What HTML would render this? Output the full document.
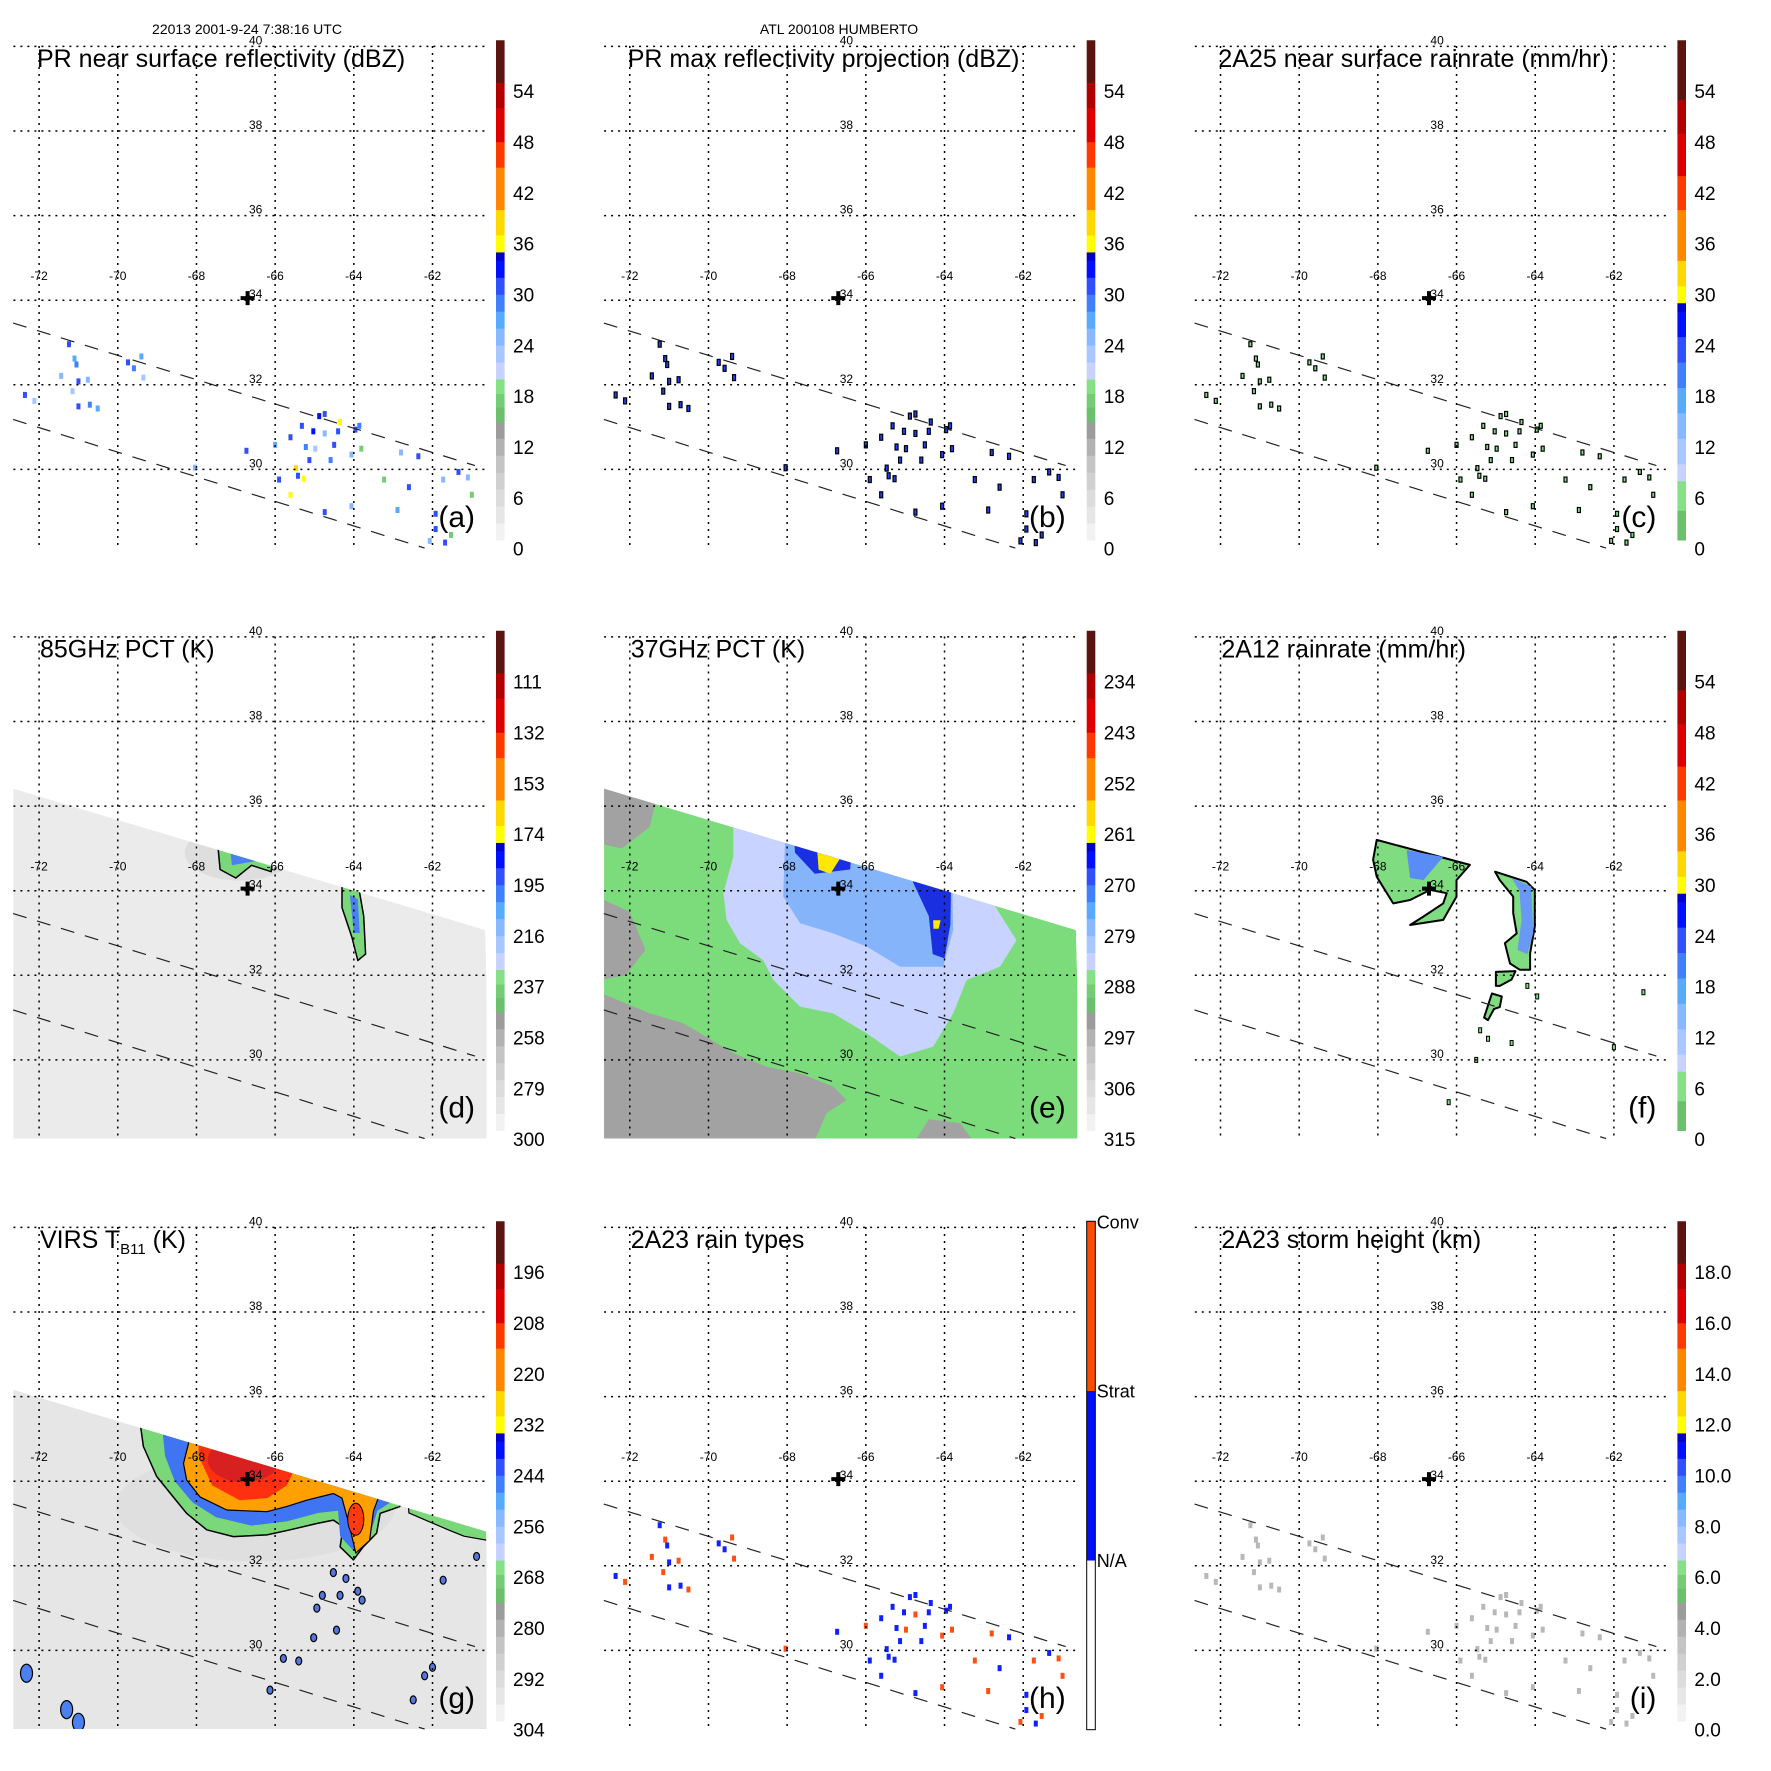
<!DOCTYPE html>
<html><head><meta charset="utf-8">
<style>
html,body{margin:0;padding:0;background:#fff;}
svg{display:block;font-family:"Liberation Sans",Arial,sans-serif;}
</style></head>
<body>
<svg id="fig" width="1771" height="1771" viewBox="0 0 1771 1771" xmlns="http://www.w3.org/2000/svg">
<text x="247" y="34" font-size="14" text-anchor="middle">22013 2001-9-24 7:38:16 UTC</text>
<text x="839" y="34" font-size="14" text-anchor="middle">ATL 200108 HUMBERTO</text>
</svg>
<script>
// ---- data ----
const lonTicks = [-72,-70,-68,-66,-64,-62];
const latTicks = [40,38,36,34,32,30];
const stormCenter = [-66.7, 34.05];
// PR echo pixels (lon, lat, dBZ)
const echoLon = [-71.24,-71.05,-71.10,-71.0,-70.76,-71.15,-71.0,-70.71,-70.51,-71.44,-72.36,-72.12,-69.74,-69.59,-69.4,-69.35,-68.04,-66.73,-66.0,-65.9,-65.61,-65.32,-65.22,-65.03,-64.88,-64.74,-65.42,-65.47,-65.27,-65.13,-64.98,-64.74,-64.5,-64.59,-64.35,-64.4,-63.96,-63.86,-63.81,-64.06,-62.8,-62.36,-62.6,-62.89,-63.23,-61.73,-61.34,-61.92,-61.92,-61.68,-62.07,-61.53,-64.06,-64.74,-65.61,-61.0,-61.1];
const echoLat = [32.96,32.48,32.62,32.08,32.12,31.85,31.49,31.53,31.44,32.21,31.76,31.62,32.53,32.39,32.67,32.17,30.04,30.44,30.58,29.76,30.76,31.03,30.53,30.9,31.26,31.31,29.85,30.03,29.78,30.22,30.49,30.85,30.58,30.22,31.12,30.9,30.94,31.03,30.49,30.35,30.4,30.31,29.58,29.04,29.76,29.76,29.94,28.95,28.59,28.27,28.31,28.45,29.13,28.99,29.4,29.4,29.81];
const echoVal = [30,28,26,30,25,22,30,28,26,24,30,22,30,28,26,22,24,30,26,30,30,30,28,32,32,30,30,38,36,30,22,24,30,28,36,30,30,28,18,24,24,30,30,26,18,24,30,30,30,30,24,18,24,30,36,18,24];
const cbTicks = [0,6,12,18,24,30,36,42,48,54];
const labelsDBZ = ['0','6','12','18','24','30','36','42','48','54'];
const labels85 = ['300','279','258','237','216','195','174','153','132','111'];
const labels37 = ['315','306','297','288','279','270','261','252','243','234'];
const labelsIR = ['304','292','280','268','256','244','232','220','208','196'];
const labelsHt = ['0.0','2.0','4.0','6.0','8.0','10.0','12.0','14.0','16.0','18.0'];
// swath edges (lon,lat)
const prUpper = [[-72.66,33.46],[-60.92,30.09]];
const prLower = [[-72.66,31.18],[-62.2,28.14]];
const tmiTop = [[-72.68,36.42],[-60.66,33.07]];
const virsTop = [[-72.68,36.17],[-60.64,32.81]];
// 37 GHz regions
const e_gray1 = [[-72.7,31.57],[-71.49,31.1],[-70.64,30.87],[-69.37,30.16],[-68.52,29.84],[-67.67,29.68],[-66.83,29.37],[-66.49,29.05],[-67.0,28.74],[-67.34,28.0],[-72.7,28.0]];
const e_gray2 = [[-72.7,33.8],[-72.0,33.5],[-71.6,32.6],[-72.1,32.0],[-72.7,31.9]];
const e_gray3 = [[-72.7,36.6],[-71.2,36.6],[-71.5,35.5],[-72.2,35.0],[-72.7,35.1]];
const e_gray4 = [[-64.8,28.0],[-64.4,28.6],[-63.6,28.5],[-63.2,28.0]];
const e_light = [[-69.37,36.5],[-62.76,36.5],[-62.76,33.70],[-62.17,32.83],[-62.59,32.2],[-63.44,31.89],[-63.78,31.1],[-64.29,30.31],[-65.13,30.08],[-65.98,30.63],[-66.83,31.1],[-67.67,31.26],[-68.35,31.89],[-68.61,32.36],[-69.2,32.76],[-69.54,33.31],[-69.62,33.94],[-69.37,34.8]];
const e_med = [[-68.01,36.5],[-63.86,36.5],[-63.78,33.07],[-64.03,32.2],[-65.13,32.2],[-65.98,32.68],[-66.83,32.99],[-67.67,33.23],[-68.1,33.86]];
const e_dark1 = [[-67.9,36.5],[-66.2,36.5],[-66.4,34.5],[-67.3,34.4],[-67.8,34.9]];
const e_dark2 = [[-64.8,36],[-63.8,36],[-63.85,33.2],[-64.0,32.4],[-64.3,32.5],[-64.4,33.4],[-64.8,34.2]];
const e_yel1 = [[-67.24,35.0],[-66.56,34.9],[-66.9,34.4],[-67.2,34.5]];
const e_yel2 = [[-64.29,33.3],[-64.1,33.3],[-64.15,33.1],[-64.28,33.1]];
// 85 GHz
const d_blob1 = [[-67.5,35.5],[-66.0,35.5],[-66.1,34.45],[-66.6,34.6],[-67.0,34.3],[-67.4,34.5]];
const d_blob1b = [[-67.2,35.5],[-66.3,35.5],[-66.5,34.7],[-67.1,34.6]];
const d_blob2 = [[-64.3,34.3],[-63.9,34.2],[-63.75,33.4],[-63.7,32.5],[-63.9,32.35],[-64.05,32.9],[-64.3,33.6]];
const d_blob2b = [[-64.1,33.9],[-63.9,33.8],[-63.85,33.0],[-64.0,33.0]];
// 2A12
const f_blob1 = [[-68.03,35.2],[-65.66,34.61],[-66.0,34.25],[-66.0,33.86],[-66.34,33.31],[-67.18,33.19],[-66.84,33.39],[-66.34,33.7],[-66.25,33.94],[-66.67,34.02],[-67.18,33.78],[-67.61,33.7],[-68.03,34.33],[-68.12,34.73]];
const f_blue1 = [[-67.27,34.96],[-66.34,34.8],[-66.84,34.25],[-67.18,34.3]];
const f_blob2 = [[-65.02,34.45],[-64.22,34.21],[-64.01,34.02],[-64.01,33.15],[-64.13,32.52],[-64.13,32.13],[-64.39,32.13],[-64.64,32.28],[-64.77,32.76],[-64.47,32.99],[-64.56,33.47],[-64.56,33.86],[-64.9,34.25]];
const f_blue2 = [[-64.6,34.3],[-64.1,34.1],[-64.05,33.0],[-64.2,32.5],[-64.45,32.6],[-64.35,33.3],[-64.4,34.0]];
const f_blob3 = [[-65.0,32.08],[-64.5,32.1],[-64.6,31.9],[-64.9,31.75],[-65.0,31.75]];
const f_blob4 = [[-65.1,31.57],[-64.85,31.5],[-64.9,31.25],[-65.05,31.2],[-65.2,30.94],[-65.3,31.0]];
const f_specksLon = [-64.2,-63.95,-65.4,-65.2,-64.6,-65.5,-66.2,-61.25,-62.0];
const f_specksLat = [31.75,31.5,30.7,30.5,30.4,30.0,29.0,31.6,30.3];
// VIRS
const g_green = [[-69.6,36.5],[-69.35,34.82],[-69.01,34.11],[-68.59,33.63],[-68.25,33.24],[-67.74,32.85],[-67.06,32.69],[-66.21,32.73],[-65.62,32.85],[-64.94,33.0],[-64.52,33.08],[-64.27,32.92],[-64.35,32.45],[-64.01,32.14],[-63.76,32.45],[-63.42,32.77],[-63.33,33.24],[-62.83,33.4],[-62.5,36.5]];
const g_blue = [[-69.0,36.5],[-68.8,34.6],[-68.55,34.0],[-68.1,33.5],[-67.5,33.15],[-66.6,32.95],[-65.7,33.05],[-64.9,33.25],[-64.4,33.3],[-64.35,32.7],[-64.0,32.35],[-63.6,32.7],[-63.4,33.3],[-62.9,33.6],[-62.6,36.5]];
const g_orange = [[-68.3,36.5],[-68.16,35.05],[-68.33,34.42],[-68.25,34.03],[-67.91,33.63],[-67.23,33.32],[-66.21,33.28],[-65.71,33.4],[-65.2,33.55],[-64.52,33.71],[-64.3,33.6],[-64.1,32.9],[-63.95,32.3],[-63.6,32.6],[-63.5,33.3],[-63.3,33.8],[-63.0,36.5]];
const g_red = [[-67.9,36.5],[-67.95,34.6],[-67.6,33.9],[-66.9,33.55],[-66.2,33.6],[-65.7,33.9],[-65.5,34.3],[-65.3,36.5]];
const g_edge = [[-62.8,36],[-60.6,36],[-60.6,32.6],[-61.2,32.7],[-61.6,32.85],[-62.1,33.05],[-62.6,33.25]];
const g_specksLon = [-64.52,-63.79,-64.94,-64.44,-65.02,-65.79,-66.13,-62.49,-61.73,-60.88,-64.2,-63.9,-64.8,-64.35,-65.4,-62.2,-62.0,-72.32,-71.3,-71.0];
const g_specksLat = [31.84,31.19,31.0,30.48,30.3,29.81,29.06,28.83,31.66,32.22,31.7,31.4,31.3,31.3,29.75,29.4,29.6,29.46,28.6,28.3];

// ---- geometry ----
const NS='http://www.w3.org/2000/svg';
const svg=document.getElementById('fig');
const COLX=[0,590.7,1181.4], ROWY=[0,590.5,1181];
function mk(tag,attrs,parent){const e=document.createElementNS(NS,tag);for(const k in attrs)e.setAttribute(k,attrs[k]);(parent||svg).appendChild(e);return e;}
function axes(ox,oy){
  return {X:lon=>ox+39.1+(lon+72)*39.34, Y:lat=>oy+46.4+(40-lat)*42.3, CB:v=>oy+548.7-v*8.474};
}
function pts(ax,arr){return arr.map(p=>ax.X(p[0]).toFixed(1)+','+ax.Y(p[1]).toFixed(1)).join(' ');}
function lerpColor(scale,v){for(const s of scale){if(v>=s[0]&&v<s[1])return s[2];}return scale[scale.length-1][2];}

const scaleA=[[0,1,'#ffffff'],[1,3,'#f2f2f2'],[3,5,'#e6e6e6'],[5,7,'#dcdcdc'],[7,9,'#d0d0d0'],[9,11,'#c4c4c4'],[11,13,'#b2b2b2'],[13,15,'#9c9c9c'],[15,16.7,'#6cbf6c'],[16.7,18.3,'#76cc76'],[18.3,20,'#86e086'],[20,22,'#c8d2ff'],[22,24,'#a8c6ff'],[24,26,'#88b8ff'],[26,28,'#58aaff'],[28,30,'#4080ff'],[30,32,'#3050ff'],[32,34,'#0010ff'],[34,35,'#0000c8'],[35,37,'#ffff00'],[37,40,'#ffd800'],[40,45,'#ff8800'],[45,48,'#ff3a00'],[48,52,'#dd0000'],[52,55,'#b00000'],[55,60,'#5a1510']];
const scaleC=[[0,1,'#ffffff'],[1,4.5,'#6cbf6c'],[4.5,8,'#86e086'],[8,10,'#c8d2ff'],[10,13,'#a8c6ff'],[13,16,'#88b8ff'],[16,19,'#58aaff'],[19,22,'#4080ff'],[22,25,'#3050ff'],[25,28,'#0010ff'],[28,29,'#0000c8'],[29,31,'#ffff00'],[31,34,'#ffd800'],[34,40,'#ff8800'],[40,44,'#ff3a00'],[44,49,'#dd0000'],[49,53,'#b00000'],[53,60,'#5a1510']];
const scaleH=[[0,20,'#ffffff'],[20,40,'#0010ff'],[40,60,'#ff4a00']];

const panels=[
 {id:'a',c:0,r:0,title:'PR near surface reflectivity (dBZ)',scale:scaleA,labels:labelsDBZ},
 {id:'b',c:1,r:0,title:'PR max reflectivity projection (dBZ)',scale:scaleA,labels:labelsDBZ},
 {id:'c',c:2,r:0,title:'2A25 near surface rainrate (mm/hr)',scale:scaleC,labels:labelsDBZ},
 {id:'d',c:0,r:1,title:'85GHz PCT (K)',scale:scaleA,labels:labels85},
 {id:'e',c:1,r:1,title:'37GHz PCT (K)',scale:scaleA,labels:labels37},
 {id:'f',c:2,r:1,title:'2A12 rainrate (mm/hr)',scale:scaleC,labels:labelsDBZ},
 {id:'g',c:0,r:2,title:'VIRS',scale:scaleA,labels:labelsIR},
 {id:'h',c:1,r:2,title:'2A23 rain types',scale:scaleH,labels:null},
 {id:'i',c:2,r:2,title:'2A23 storm height (km)',scale:scaleA,labels:labelsHt}
];

panels.forEach(p=>{
  const ox=COLX[p.c], oy=ROWY[p.r], ax=axes(ox,oy);
  const g=mk('g',{});
  
  
  const cp=mk('clipPath',{id:'clip'+p.id},g);
  mk('rect',{x:ox+13.4,y:oy+40,width:473.2,height:508},cp);
  const mapG=mk('g',{'clip-path':'url(#clip'+p.id+')'},g);
  
  

  function poly(arr,fill,stroke,sw,name,parent){
    const e=mk('polygon',{points:pts(ax,arr),fill:fill,stroke:stroke||'none','stroke-width':sw||0,'stroke-linejoin':'round'},parent||mapG);
    
    
    return e;
  }
  function swathPoly(top){return [top[0],top[1],[-60.5,27.5],[-72.8,27.5]];}

  if(p.id==='d'||p.id==='e'){
    const sc=mk('clipPath',{id:'sw'+p.id},g);
    mk('polygon',{points:pts(ax,swathPoly(tmiTop))},sc);
    const sg=mk('g',{'clip-path':'url(#sw'+p.id+')'},mapG);
    
    
    if(p.id==='d'){
      poly(swathPoly(tmiTop),'#ebebeb',null,0,'pct85-background',sg);
      const halo=mk('ellipse',{cx:ax.X(-66.9),cy:ax.Y(34.9),rx:55,ry:28,fill:'#d8d8d8',opacity:0.7},sg);
      
      
      poly(d_blob1,'#7ad87a','#000',1.5,'pct85-cell-1',sg);
      poly(d_blob1b,'#4a80f0',null,0,'pct85-cell-1-core',sg);
      poly(d_blob2,'#7ad87a','#000',1.5,'pct85-cell-2',sg);
      poly(d_blob2b,'#4a80f0',null,0,'pct85-cell-2-core',sg);
    } else {
      poly(swathPoly(tmiTop),'#7cdc7c',null,0,'pct37-background',sg);
      [e_gray1,e_gray2,e_gray3,e_gray4].forEach((a,i)=>poly(a,'#a2a2a2',null,0,'pct37-warm-region-'+(i+1),sg));
      poly(e_light,'#c8d4ff',null,0,'pct37-light-region',sg);
      poly(e_med,'#86b4fa',null,0,'pct37-medium-region',sg);
      poly(e_dark1,'#1a30e0',null,0,'pct37-cold-region-1',sg);
      poly(e_dark2,'#1a30e0',null,0,'pct37-cold-region-2',sg);
      poly(e_yel1,'#ffe800',null,0,'pct37-coldest-1',sg);
      poly(e_yel2,'#ffe800',null,0,'pct37-coldest-2',sg);
    }
  }
  if(p.id==='g'){
    const sc=mk('clipPath',{id:'swg'},g);
    mk('polygon',{points:pts(ax,swathPoly(virsTop))},sc);
    const sg=mk('g',{'clip-path':'url(#swg)'},mapG);
    
    
    poly(swathPoly(virsTop),'#e6e6e6',null,0,'virs-background',sg);
    const shade=mk('ellipse',{cx:ax.X(-66.5),cy:ax.Y(33.4),rx:140,ry:55,fill:'#d6d6d6',opacity:0.45},sg);
    
    
    poly(g_edge,'#7ad87a','#000',1.2,'virs-edge-cloud',sg);
    poly(g_green,'#7ad87a','#000',1.5,'virs-cloud-green',sg);
    poly(g_blue,'#3f74f2',null,0,'virs-cloud-blue',sg);
    poly(g_orange,'#ffa000','#000',1.2,'virs-cloud-orange',sg);
    poly(g_red,'#ff3010',null,0,'virs-cloud-red',sg);
    const core=mk('ellipse',{cx:ax.X(-66.8),cy:ax.Y(34.5),rx:36,ry:22,fill:'#d82020'},sg);
    
    
    const spot=mk('ellipse',{cx:ax.X(-63.95),cy:ax.Y(33.1),rx:8,ry:16,fill:'#ff3a10',stroke:'#000','stroke-width':1},sg);
    
    
    g_specksLon.forEach((lon,i)=>{
      const big=i>=17;
      const s=mk('ellipse',{cx:ax.X(lon),cy:ax.Y(g_specksLat[i]),rx:big?6:3,ry:big?9:4,fill:big?'#4a80f0':'#5577dd',stroke:'#000','stroke-width':1.2},sg);
      
      
    });
  }
  if(p.id==='f'){
    [f_blob1,f_blob2,f_blob3,f_blob4].forEach((a,i)=>poly(a,'#80dc80','#000',2,'rain-area-'+(i+1)));
    poly(f_blue1,'#5a8cf5',null,0,'rain-core-1');
    poly(f_blue2,'#6a98f5',null,0,'rain-core-2');
    f_specksLon.forEach((lon,i)=>{
      const s=mk('rect',{x:ax.X(lon)-1.5,y:ax.Y(f_specksLat[i])-2.5,width:3,height:5,fill:'#80dc80',stroke:'#000','stroke-width':1},mapG);
      
      
    });
  }
  // PR echoes
  if(['a','b','c','h','i'].includes(p.id)){
    echoLon.forEach((lon,i)=>{
      const v=echoVal[i];
      let fill,stroke='none',w=4,h=6;
      if(p.id==='a') fill=lerpColor(scaleA,v);
      else if(p.id==='b'){fill='#2040ff';stroke='#000';w=3;h=6;}
      else if(p.id==='c'){fill='#80dc80';stroke='#000';w=3;h=5;}
      else if(p.id==='h') fill=v>=27?'#1020ff':'#ff5010';
      else fill='#b8b8b8';
      const r=mk('rect',{x:ax.X(lon)-w/2,y:ax.Y(echoLat[i])-h/2,width:w,height:h,fill:fill,stroke:stroke,'stroke-width':1.2},mapG);
      
      
    });
  }
  // PR swath dashed lines
  [prUpper,prLower].forEach((l,i)=>{
    const ln=mk('line',{x1:ax.X(l[0][0]),y1:ax.Y(l[0][1]),x2:ax.X(l[1][0]),y2:ax.Y(l[1][1]),stroke:'#222','stroke-width':1.2,'stroke-dasharray':'14,11'},g);
    
    
  });
  // grid
  lonTicks.forEach(lon=>{
    const l=mk('line',{x1:ax.X(lon),y1:oy+46,x2:ax.X(lon),y2:oy+548,stroke:'#000','stroke-width':1.5,'stroke-dasharray':'2,5'},g);
    
    
    const t=mk('text',{x:ax.X(lon),y:oy+280,'font-size':12,'text-anchor':'middle'},g);
    t.textContent=String(lon);
    
    
  });
  latTicks.forEach(lat=>{
    const l=mk('line',{x1:ox+13.4,y1:ax.Y(lat),x2:ox+487,y2:ax.Y(lat),stroke:'#000','stroke-width':1.5,'stroke-dasharray':'2,5'},g);
    
    
    const t=mk('text',{x:ox+249,y:ax.Y(lat)-2,'font-size':12},g);
    t.textContent=String(lat);
    
    
  });
  // storm center cross
  const cx=ax.X(stormCenter[0]), cy=ax.Y(stormCenter[1]);
  const cr=mk('path',{d:`M${cx-7},${cy-2}h14v4h-14z M${cx-2},${cy-7}h4v14h-4z`,fill:'#000'},g);
  
  
  // title
  const tt=mk('text',{x:ox+(p.r===0?37:40),y:oy+67,'font-size':25},g);
  
  
  if(p.id==='g'){
    tt.textContent='VIRS T';
    const s1=mk('tspan',{'font-size':15,dy:6},tt);s1.textContent='B11';
    const s2=mk('tspan',{dy:-6},tt);s2.textContent=' (K)';
  } else tt.textContent=p.title;
  // panel letter
  const pl=mk('text',{x:ox+475,y:oy+527,'font-size':30,'text-anchor':'end'},g);
  pl.textContent='('+p.id+')';
  
  
  // colorbar
  const cbg=mk('g',{},g);
  
  
  p.scale.forEach(s=>{
    const y1=ax.CB(s[1]), y0=ax.CB(s[0]);
    const r=mk('rect',{x:ox+496,y:y1,width:8.6,height:Math.max(0,y0-y1+0.3),fill:s[2]},cbg);
    
    
  });
  if(p.id==='h'){
    const ob=mk('rect',{x:ox+496,y:ax.CB(60),width:8.6,height:ax.CB(0)-ax.CB(60),fill:'none',stroke:'#000','stroke-width':1},cbg);
    
    
    [['Conv',60],['Strat',40],['N/A',20]].forEach(l=>{
      const t=mk('text',{x:ox+506,y:ax.CB(l[1])+7,'font-size':18},cbg);
      t.textContent=l[0];
      
      
    });
  } else {
    cbTicks.forEach((v,i)=>{
      const t=mk('text',{x:ox+513,y:ax.CB(v)+7,'font-size':19},cbg);
      t.textContent=p.labels[i];
      
      
    });
  }
});
</script>
</body></html>
